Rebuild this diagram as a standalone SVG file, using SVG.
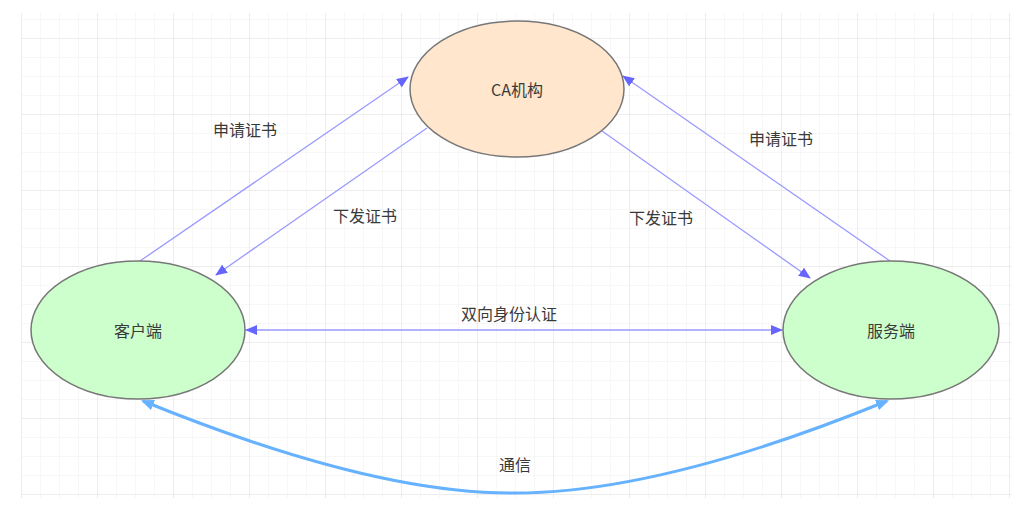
<svg xmlns="http://www.w3.org/2000/svg" width="1031" height="520" viewBox="0 0 1031 520">
<defs>
<pattern id="minor" x="21" y="0" width="19" height="19" patternUnits="userSpaceOnUse">
<path d="M0,0 V19 M0,0 H19" fill="none" stroke="#f0f0f0" stroke-width="1"/>
</pattern>
<pattern id="major" x="21" y="38" width="76" height="76" patternUnits="userSpaceOnUse">
<path d="M0,0 V76 M0,0 H76" fill="none" stroke="#e4e4e4" stroke-width="1"/>
</pattern>
<marker id="ah" viewBox="0 0 12 10" refX="11" refY="5" markerWidth="12" markerHeight="10" markerUnits="userSpaceOnUse" orient="auto-start-reverse">
<path d="M0,0 L12,5 L0,10 Z" fill="#6666ff"/>
</marker>
<marker id="ahb" viewBox="0 0 12 10" refX="10" refY="5" markerWidth="13" markerHeight="11" markerUnits="userSpaceOnUse" orient="auto-start-reverse">
<path d="M0,0 L12,5 L0,10 Z" fill="#66b2ff"/>
</marker>
<style>
.node{stroke:#777;stroke-width:1.5}
.lbl{font-family:"Noto Sans CJK SC","Liberation Sans",sans-serif;font-size:16px;fill:#3a3a3a;text-anchor:middle;dominant-baseline:central}
.e{fill:none;stroke:#9999ff;stroke-width:1.3}
</style>
</defs>
<rect width="1031" height="520" fill="#ffffff"/>
<g id="grid">
<rect x="21" y="13" width="991" height="485" fill="url(#minor)"/>
<rect x="21" y="13" width="991" height="485" fill="url(#major)"/>
</g>
<g id="connectors">
<path class="e" d="M140,261 L408,77" marker-end="url(#ah)"/>
<path class="e" d="M427,128 L216,275" marker-end="url(#ah)"/>
<path class="e" d="M602,131 L810,278" marker-end="url(#ah)"/>
<path class="e" d="M890,261 L623,76" marker-end="url(#ah)"/>
<path class="e" d="M246,330 L782,330" marker-start="url(#ah)" marker-end="url(#ah)"/>
<path d="M143,401 C300,465 420,494 515,493 C610,493 730,465 887,401" fill="none" stroke="#66b2ff" stroke-width="3" marker-start="url(#ahb)" marker-end="url(#ahb)"/>
<text class="lbl" x="245" y="129">申请证书</text>
<text class="lbl" x="365" y="215">下发证书</text>
<text class="lbl" x="661" y="217">下发证书</text>
<text class="lbl" x="781" y="138">申请证书</text>
<text class="lbl" x="509" y="313">双向身份认证</text>
<text class="lbl" x="515" y="464">通信</text>
</g>
<g id="ca">
<ellipse class="node" cx="517" cy="89" rx="107" ry="68" fill="#ffe6cc"/>
<text class="lbl" x="517" y="89">CA机构</text>
</g>
<g id="client">
<ellipse class="node" cx="138" cy="330" rx="107" ry="69" fill="#ccffcc"/>
<text class="lbl" x="138" y="330">客户端</text>
</g>
<g id="server">
<ellipse class="node" cx="891" cy="330" rx="108" ry="69" fill="#ccffcc"/>
<text class="lbl" x="891" y="330">服务端</text>
</g>
</svg>
